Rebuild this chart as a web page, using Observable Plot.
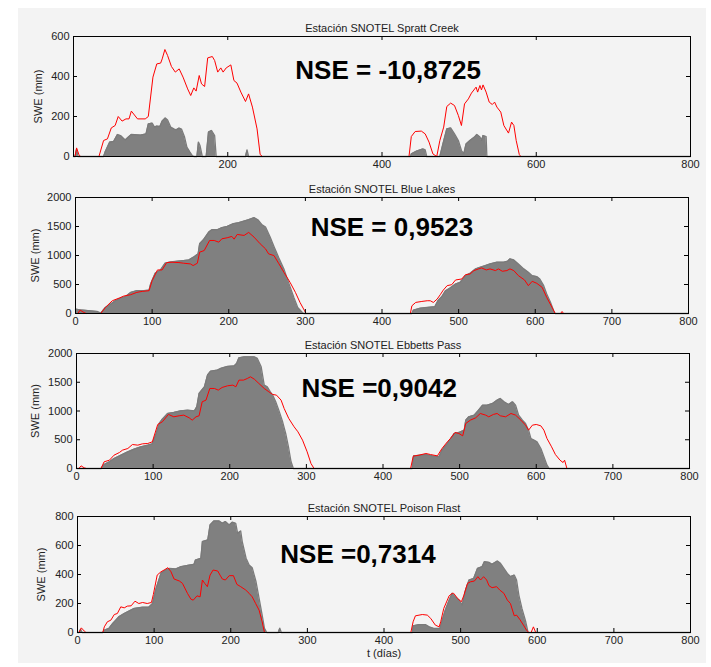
<!DOCTYPE html>
<html>
<head>
<meta charset="utf-8">
<script src="https://cdn.jsdelivr.net/npm/d3@7"></script>
<script src="https://cdn.jsdelivr.net/npm/@observablehq/plot@0.6"></script>
<style>
  body { margin: 0; background: #ffffff; }
  #fig { position: relative; width: 711px; height: 667px; overflow: hidden; }
  #bg { position: absolute; left: 18px; top: 8px; width: 688px; height: 655px; background: #f3f3f3; }
  .panel { position: absolute; left: 0; }
</style>
</head>
<body>
<div id="fig"><div id="bg"></div></div>
<script>
// Snow water equivalent (mm) against time (days): observed (grey area) and simulated (red line)
const stations = ["Estación SNOTEL Spratt Creek", "Estación SNOTEL Blue Lakes", "Estación SNOTEL Ebbetts Pass", "Estación SNOTEL Poison Flast"];
const nseLabels = ["NSE = -10,8725", "NSE = 0,9523", "NSE =0,9042", "NSE =0,7314"];

const xTicksCoarse = [200, 400, 600, 800];
const xTicksFine = [0, 100, 200, 300, 400, 500, 600, 700, 800];
const yTicksSpratt = [0, 200, 400, 600];
const yTicksBlue = [0, 500, 1000, 1500, 2000];
const yTicksEbbetts = [0, 500, 1000, 1500, 2000];
const yTicksPoison = [0, 200, 400, 600, 800];

// [day, SWE mm]
const sprattObs = [[0,0],[2,0],[4,35],[6,0],[39,0],[41,22],[47,72],[52,75],[57,110],[61,105],[67,83],[72,100],[75,110],[87,107],[94,113],[97,163],[102,167],[105,147],[108,152],[112,150],[115,177],[119,193],[122,183],[126,147],[130,138],[133,133],[137,142],[140,137],[144,97],[147,47],[151,22],[154,5],[156,0],[160,0],[162,72],[164,55],[167,0],[172,0],[175,122],[179,130],[183,105],[185,0],[223,0],[225,33],[227,0],[437,0],[438,13],[445,27],[453,38],[456,33],[458,0],[475,0],[479,63],[484,138],[489,143],[494,113],[499,80],[503,30],[506,13],[509,63],[514,80],[520,97],[523,110],[527,97],[529,80],[531,105],[535,100],[536,0],[800,0]];
const sprattSim = [[0,0],[2,0],[4,43],[7,10],[9,0],[33,0],[39,80],[44,88],[49,143],[54,155],[58,200],[63,177],[68,188],[72,188],[75,227],[83,188],[93,188],[97,200],[103,397],[108,463],[113,467],[115,488],[118.5,535],[122,505],[127,450],[132,422],[137,438],[142,397],[148,338],[152,305],[156,343],[159,327],[163,405],[166,363],[170,350],[174,493],[180,500],[183,480],[187,422],[191,443],[194,422],[198,443],[204,458],[208,380],[212,367],[217,322],[223,275],[227,313],[232,247],[238,138],[242,10],[245,0],[435,0],[438,100],[443,125],[451,127],[456,113],[461,72],[466,13],[471,0],[475,80],[480,147],[484,250],[489,267],[494,255],[499,205],[503,155],[507,263],[512,288],[516,317],[522,347],[524,322],[527,355],[529,333],[531,358],[535,322],[539,272],[543,260],[546,272],[549,247],[554,222],[558,155],[564,117],[568,172],[571,155],[574,80],[578,10],[580,0],[732,0]];

const blueObs = [[0,76],[6,64],[20,46],[28,35],[30,25],[33,10],[35,40],[39,104],[46,162],[52,220],[59,266],[65,289],[72,364],[80,393],[89,393],[96,404],[98,508],[104,693],[111,751],[117,867],[124,890],[133,901],[141,913],[148,924],[154,971],[160,1028],[162,1202],[167,1271],[174,1404],[178,1444],[185,1444],[191,1479],[198,1502],[206,1548],[213,1566],[220,1594],[226,1617],[233,1652],[238,1617],[243,1536],[248,1490],[254,1317],[259,1155],[265,971],[272,769],[278,537],[285,277],[290,104],[296,17],[298,0],[439,0],[441,58],[450,92],[459,104],[469,116],[473,220],[478,289],[483,393],[489,439],[496,508],[502,537],[509,653],[515,693],[522,769],[528,797],[535,826],[541,855],[550,884],[559,884],[564,901],[567,942],[572,924],[578,855],[585,769],[591,711],[596,653],[602,636],[606,595],[611,480],[615,335],[620,191],[624,46],[626,0],[800,0]];
const blueSim = [[0,0],[3,0],[6,58],[11,17],[14,0],[33,0],[39,104],[48,220],[57,266],[63,301],[72,324],[80,364],[87,381],[96,393],[100,566],[107,751],[113,751],[119,878],[126,884],[135,878],[141,867],[150,855],[153.5,826],[159,867],[162,1057],[168,1086],[175,1259],[181,1259],[187,1230],[191,1288],[198,1306],[204,1329],[207,1282],[211,1363],[220,1346],[226,1398],[233,1317],[241,1202],[248,1115],[252,1028],[259,999],[265,867],[272,711],[280,537],[287,364],[293,191],[299,46],[301,0],[437,0],[439,133],[444,191],[452,208],[459,220],[463,220],[467,191],[472,249],[476,324],[480,404],[485,480],[491,497],[496,578],[504,595],[509,670],[515,682],[520,740],[526,769],[530,786],[536,751],[541,769],[548,740],[552,769],[557,728],[563,740],[567,769],[572,740],[578,653],[586,578],[591,480],[596,555],[602,520],[609,451],[615,277],[622,104],[626,0],[633,0],[635,35],[637,0],[732,0]];

const ebbettsObs = [[0,0],[32,0],[36,70],[43,116],[49,174],[58,232],[67,290],[75,336],[84,377],[93,406],[99,429],[104,609],[108,783],[112,858],[119,957],[127,974],[136,1003],[145,1015],[154,1003],[157,1073],[160,1305],[167,1421],[171,1624],[175,1693],[184,1711],[188,1740],[197,1775],[206,1786],[209,1827],[212,1925],[219,1943],[232,1943],[236,1914],[241,1769],[245,1450],[249,1421],[253,1334],[256,1276],[260,1160],[264,1015],[269,812],[273,609],[277,348],[280,116],[283,0],[438,0],[440,220],[449,232],[456,243],[464,220],[473,203],[477,319],[484,435],[488,510],[493,609],[499,626],[506,667],[508,841],[512,899],[519,928],[523,986],[530,1102],[536,1102],[543,1131],[549,1189],[553,1218],[558,1160],[564,1114],[569,1160],[573,1102],[577,928],[582,841],[586,783],[590,667],[593,522],[597,493],[601,464],[606,348],[610,203],[614,58],[617,0],[800,0]];
const ebbettsSim = [[0,0],[3,0],[6,46],[10,12],[13,0],[32,0],[36,116],[43,145],[49,232],[56,278],[60,319],[67,348],[73,417],[80,406],[86,429],[93,435],[99,464],[106,766],[112,812],[120,940],[127,899],[134,917],[140,928],[147,882],[151,841],[156,899],[160,917],[164,1160],[169,1189],[174,1392],[180,1392],[185,1363],[190,1409],[197,1438],[204,1450],[208,1421],[212,1537],[218,1537],[223,1566],[227,1595],[232,1554],[238,1479],[245,1392],[251,1334],[256,1288],[261,1276],[267,1189],[271,1044],[277,870],[284,725],[289,638],[295,493],[301,290],[306,87],[310,0],[436,0],[439.5,215],[447,232],[456,261],[462,243],[471,220],[477,348],[484,464],[488,522],[494,626],[499,609],[504,568],[508,783],[514,841],[521,882],[527,957],[534,928],[538,899],[544,940],[549,957],[553,917],[560,899],[567,957],[573,928],[580,841],[586,754],[590,667],[595,754],[600,766],[606,742],[610,667],[614,522],[620,377],[625,243],[631,145],[635,104],[637,145],[640,0],[732,0]];

const poisonObs = [[0,0],[2,0],[4,23],[6,0],[33,0],[35,16],[41,28],[46,62],[50,85],[54,108],[61,131],[67,147],[74,166],[85,175],[93,175],[98,200],[102,293],[109,408],[115,431],[120,442],[128,438],[135,454],[146,465],[152,470],[154,500],[161,512],[163,627],[170,638],[173,742],[178,769],[185,769],[189,753],[193,765],[198,742],[202,761],[206.5,753],[209,684],[213,700],[215,627],[220,512],[224,465],[228,447],[233,350],[237,235],[241,120],[244,28],[247,0],[262,0],[264,30],[266,0],[437,0],[438,46],[446,55],[454,55],[459,39],[465,28],[473,28],[476,85],[480,154],[485,223],[489,270],[493,246],[498,223],[502,189],[506.5,293],[511,362],[517,373],[522,442],[528,454],[531,488],[537,484],[541,470],[548,493],[552,477],[556.5,442],[561,408],[565,385],[570,396],[573,362],[576,258],[580,166],[585,74],[588,0],[800,0]];
const poisonSim = [[0,0],[2,0],[5,32],[9,9],[11,0],[33,0],[35,39],[39,74],[43.5,85],[48,124],[52,131],[56.5,177],[61,170],[65,182],[70,184],[75,216],[80,200],[85,207],[91,200],[96.5,207],[99,262],[104,396],[109,419],[113,431],[118,447],[122,419],[126,369],[133,355],[137,339],[143.5,270],[148,230],[151,223],[156,253],[160,246],[163,362],[166,339],[169.5,316],[173,396],[177,431],[183,424],[186,396],[189,369],[193,362],[198,392],[203.5,392],[208,332],[213,316],[219.5,293],[224,270],[228,246],[232.5,200],[237,154],[241,74],[244,0],[435,0],[438,74],[441,115],[450,124],[456.5,120],[461,97],[467,51],[472,39],[474,74],[478,166],[485,253],[489,270],[491,270],[496,235],[501,212],[504,253],[509,339],[513,350],[518,355],[522.5,385],[526,362],[530,385],[534,362],[537,323],[541,309],[547,316],[551,293],[556.5,270],[561,223],[565,200],[570,115],[573,120],[577,92],[582,51],[586,16],[589,0],[592,0],[595,39],[598,0],[732,0]];

// Where each NSE annotation sits, in data units [day, SWE]
const nsePositions = [[408, 428], [413, 1477], [395, 1396], [366, 540]];

const toRows = (pairs) => pairs.map(([t, v]) => ({t, v}));

// Frame box of each subplot within the 711px-wide figure
const layouts = [
  {left: 73, right: 690, top: 36, bottom: 156, yLabelX: 38},
  {left: 75, right: 688, top: 197, bottom: 313, yLabelX: 35},
  {left: 76, right: 689, top: 353, bottom: 468, yLabelX: 35},
  {left: 77, right: 690, top: 516, bottom: 632, yLabelX: 41}
];

const panels = [
  {obs: sprattObs, sim: sprattSim, yTicks: yTicksSpratt, xTicks: xTicksCoarse},
  {obs: blueObs, sim: blueSim, yTicks: yTicksBlue, xTicks: xTicksFine},
  {obs: ebbettsObs, sim: ebbettsSim, yTicks: yTicksEbbetts, xTicks: xTicksFine},
  {obs: poisonObs, sim: poisonSim, yTicks: yTicksPoison, xTicks: xTicksFine}
];

const W = 711;
const mTop = 30, mBottom = 40;
const font = "'Liberation Sans', Arial, Helvetica, sans-serif";
const fig = document.getElementById("fig");

panels.forEach((p, i) => {
  const L = layouts[i];
  const w = L.right - L.left, h = L.bottom - L.top;
  const yMax = p.yTicks[p.yTicks.length - 1];
  const tickLen = 4;
  const last = i === panels.length - 1;
  const marks = [
    Plot.areaY(toRows(p.obs), {x: "t", y: "v", fill: "#808080", curve: "linear"}),
    Plot.lineY(toRows(p.obs), {x: "t", y: "v", stroke: "#7a7a7a", strokeWidth: 1.3}),
    Plot.lineY(toRows(p.sim), {x: "t", y: "v", stroke: "#ff0000", strokeWidth: 1}),
    Plot.frame({stroke: "#000", strokeWidth: 1}),
    // inward ticks on all four sides
    Plot.tickX(p.xTicks, {x: d => d, insetTop: h - tickLen, stroke: "#000"}),
    Plot.tickX(p.xTicks, {x: d => d, insetBottom: h - tickLen, stroke: "#000"}),
    Plot.tickY(p.yTicks, {y: d => d, insetRight: w - tickLen, stroke: "#000"}),
    Plot.tickY(p.yTicks, {y: d => d, insetLeft: w - tickLen, stroke: "#000"}),
    Plot.axisX(p.xTicks, {tickSize: 0, tickPadding: 4, tickFormat: d => String(d), fill: "#222", fontSize: 11}),
    Plot.axisY(p.yTicks, {tickSize: 0, tickPadding: 4, tickFormat: d => String(d), fill: "#222", fontSize: 11}),
    Plot.text([stations[i]], {text: d => d, frameAnchor: "top", dy: -12, fontSize: 11, fill: "#222"}),
    Plot.text(["SWE (mm)"], {text: d => d, frameAnchor: "left", dx: L.yLabelX - L.left, rotate: -90, textAnchor: "middle", fontSize: 11, fill: "#222"}),
    Plot.text([{t: nsePositions[i][0], v: nsePositions[i][1], label: nseLabels[i]}],
      {x: "t", y: "v", text: "label", fontSize: 26, fontWeight: "bold", fill: "#000", textAnchor: "middle", lineAnchor: "middle"})
  ];
  if (last) {
    marks.push(Plot.text(["t (días)"], {text: d => d, frameAnchor: "bottom", dy: 24, fontSize: 11, fill: "#222"}));
  }
  const chart = Plot.plot({
    width: W,
    height: mTop + h + mBottom,
    marginLeft: L.left,
    marginRight: W - L.right,
    marginTop: mTop,
    marginBottom: mBottom,
    x: {domain: [0, 800], label: null},
    y: {domain: [0, yMax], label: null},
    style: {background: "transparent", fontFamily: font, fontSize: "11px", overflow: "visible"},
    marks
  });
  chart.classList.add("panel");
  chart.style.top = (L.top - mTop) + "px";
  fig.appendChild(chart);
});
</script>
</body>
</html>
